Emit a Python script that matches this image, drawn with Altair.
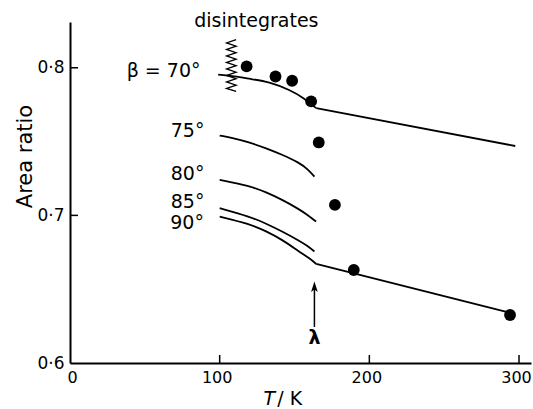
import altair as alt
import pandas as pd

# ---- data ----
t70 = [99, 110, 120, 133, 147, 157, 162, 164.5, 297.5]
r70 = [0.7953, 0.7942, 0.7925, 0.7905, 0.785, 0.779, 0.7745, 0.7727, 0.747]

t75 = [100, 109, 120, 131, 142, 153, 158.9, 163.3]
r75 = [0.7541, 0.7523, 0.7494, 0.7455, 0.741, 0.7358, 0.7313, 0.7263]

t80 = [100, 120, 131, 142, 153, 158.9, 164.4]
r80 = [0.7241, 0.72, 0.7157, 0.7105, 0.7042, 0.7002, 0.6958]

t85 = [100, 120, 131, 142, 153, 158.5, 163.3]
r85 = [0.7049, 0.6992, 0.6945, 0.689, 0.6829, 0.6795, 0.6755]

t90 = [100, 120, 131, 142, 153, 160, 164.5, 293.6]
r90 = [0.6992, 0.6942, 0.6893, 0.6834, 0.6755, 0.671, 0.6671, 0.6341]

dot_t = [118, 137.3, 148.4, 161.1, 166.2, 177, 189.6, 294]
dot_r = [0.8009, 0.7941, 0.7912, 0.7772, 0.7494, 0.7071, 0.663, 0.6325]

zig_t = [111, 104.6, 111, 104.6, 111, 104.6, 111, 104.6, 111,
         104.6, 111, 104.6, 111, 104.6, 111, 104.6, 111]
zig_r = [0.819, 0.8168, 0.8146, 0.8124, 0.8102, 0.808, 0.8058, 0.8036, 0.8014,
         0.7992, 0.797, 0.7948, 0.7926, 0.7904, 0.7882, 0.786, 0.784]

beta_labels = ["\u03b2 = 70\u00b0", "75\u00b0", "80\u00b0", "85\u00b0", "90\u00b0"]
beta_label_t = [87.2, 89.8, 89.8, 89.8, 89.5]
beta_label_r = [0.798, 0.757, 0.7278, 0.709, 0.6946]

x_ticks = [0, 100, 200, 300]
y_ticks = [0.6, 0.7, 0.8]
x_inner_ticks = [100, 200, 300]
y_inner_ticks = [0.7, 0.8]

lambda_t = 163.3
arrow_r = [0.6244, 0.651]
lambda_r = 0.617

note_text = "disintegrates"
note_t, note_r = 124.5, 0.8278

xtitle_t = [137, 138.5]
xtitle_r = 0.5716

# ---- chart ----
W, H = 461, 341
FONT = "DejaVu Sans"
xs = alt.Scale(domain=[0, 308], nice=False, zero=False)
ys = alt.Scale(domain=[0.6, 0.831], nice=False, zero=False)

# curved parts (below the lambda point) and straight parts (above it)
curved = pd.concat([
    pd.DataFrame({"T": t, "R": r, "beta": b})
    for t, r, b in [(t70[:-1], r70[:-1], "70"), (t75, r75, "75"), (t80, r80, "80"),
                    (t85, r85, "85"), (t90[:-1], r90[:-1], "90")]
])
straight = pd.concat([
    pd.DataFrame({"T": t[-2:], "R": r[-2:], "beta": b})
    for t, r, b in [(t70, r70, "70"), (t90, r90, "90")]
])

x_axis = alt.Axis(values=x_ticks, title=None, grid=False, ticks=False,
                  domainColor="black", domainWidth=2, labelColor="black",
                  labelFont=FONT, labelFontSize=16, labelPadding=6, labelOffset=-3)
y_axis = alt.Axis(values=y_ticks, title="Area ratio", grid=False, ticks=False,
                  domainColor="black", domainWidth=2, labelColor="black",
                  labelFont=FONT, labelFontSize=17, labelPadding=6,
                  labelExpr="replace(format(datum.value, '.1f'), '.', '\u00b7')",
                  titleFont=FONT, titleFontSize=21, titleFontWeight="normal",
                  titleColor="black", titleX=-45, titleY=134, titleAngle=270,
                  titleAlign="center", titleBaseline="middle")

lines = alt.Chart(curved).mark_line(color="black", strokeWidth=1.8,
                                     interpolate="basis").encode(
    x=alt.X("T:Q", scale=xs, axis=x_axis),
    y=alt.Y("R:Q", scale=ys, axis=y_axis),
    detail="beta:N",
)

lines2 = alt.Chart(straight).mark_line(color="black", strokeWidth=1.8).encode(
    x=alt.X("T:Q", scale=xs), y=alt.Y("R:Q", scale=ys), detail="beta:N")

dots = alt.Chart(pd.DataFrame({"T": dot_t, "R": dot_r})).mark_point(
    filled=True, color="black", size=140, opacity=1, shape="circle").encode(
    x=alt.X("T:Q", scale=xs), y=alt.Y("R:Q", scale=ys))

zig = alt.Chart(pd.DataFrame({"T": zig_t, "R": zig_r, "o": list(range(len(zig_t)))})
                ).mark_line(color="black", strokeWidth=1.3).encode(
    x=alt.X("T:Q", scale=xs), y=alt.Y("R:Q", scale=ys), order="o:Q")

labels = alt.Chart(pd.DataFrame({"T": beta_label_t, "R": beta_label_r, "txt": beta_labels})
                   ).mark_text(align="right", baseline="middle", font=FONT,
                               fontSize=19, color="black").encode(
    x=alt.X("T:Q", scale=xs), y=alt.Y("R:Q", scale=ys), text="txt:N")

xtick_rules = alt.Chart(pd.DataFrame({"T": x_inner_ticks})).mark_rule(
    color="black", strokeWidth=1.5).encode(
    x=alt.X("T:Q", scale=xs), y=alt.value(H), y2=alt.value(H - 8))

ytick_rules = alt.Chart(pd.DataFrame({"R": y_inner_ticks})).mark_rule(
    color="black", strokeWidth=1.5).encode(
    y=alt.Y("R:Q", scale=ys), x=alt.value(0), x2=alt.value(8))

arrow = alt.Chart(pd.DataFrame({"T": [lambda_t], "R": [arrow_r[0]], "R2": [arrow_r[1]]})
                  ).mark_rule(color="black", strokeWidth=1.5).encode(
    x=alt.X("T:Q", scale=xs), y=alt.Y("R:Q", scale=ys), y2="R2:Q")

head = alt.Chart(pd.DataFrame({"T": [lambda_t], "R": [arrow_r[1]]})).mark_point(
    shape="M0,-1L0.55,0.7L0,0.3L-0.55,0.7Z", filled=True, color="black",
    size=150, opacity=1).encode(x=alt.X("T:Q", scale=xs), y=alt.Y("R:Q", scale=ys))

lam = alt.Chart(pd.DataFrame({"T": [lambda_t], "R": [lambda_r], "txt": ["\u03bb"]})
                ).mark_text(align="center", baseline="middle", font=FONT,
                            fontSize=19, fontWeight="bold", color="black").encode(
    x=alt.X("T:Q", scale=xs), y=alt.Y("R:Q", scale=ys), text="txt:N")

note = alt.Chart(pd.DataFrame({"T": [note_t], "R": [note_r], "txt": [note_text]})
                 ).mark_text(align="center", baseline="alphabetic", font=FONT,
                             fontSize=19, color="black").encode(
    x=alt.X("T:Q", scale=xs), y=alt.Y("R:Q", scale=ys), text="txt:N")

xt1 = alt.Chart(pd.DataFrame({"T": [xtitle_t[0]], "R": [xtitle_r], "txt": ["T"]})
                ).mark_text(align="right", baseline="alphabetic", font=FONT,
                            fontSize=19, fontStyle="italic", color="black").encode(
    x=alt.X("T:Q", scale=xs), y=alt.Y("R:Q", scale=ys), text="txt:N")
xt2 = alt.Chart(pd.DataFrame({"T": [xtitle_t[1]], "R": [xtitle_r], "txt": ["/ K"]})
                ).mark_text(align="left", baseline="alphabetic", font=FONT,
                            fontSize=19, color="black").encode(
    x=alt.X("T:Q", scale=xs), y=alt.Y("R:Q", scale=ys), text="txt:N")

chart = alt.layer(lines, lines2, zig, dots, labels, xtick_rules, ytick_rules, arrow, head,
                  lam, note, xt1, xt2).properties(
    width=W, height=H,
    autosize=alt.AutoSizeParams(type="none"),
    padding={"left": 70, "top": 22, "right": 2, "bottom": 46},
    background="white",
).configure_view(stroke=None)

chart.save("out.html", embed_options={"renderer": "svg", "actions": False})
